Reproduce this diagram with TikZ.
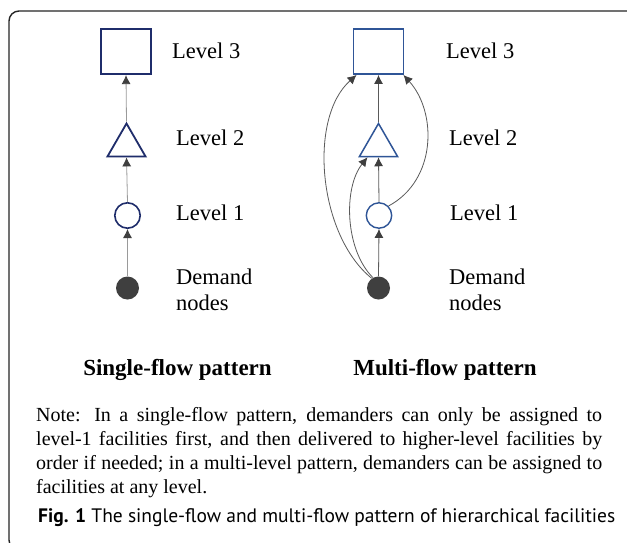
\documentclass[tikz,border=0pt]{standalone}
\usepackage{fontspec}
\setmainfont{Liberation Serif}
\newfontfamily\capfont{PT Sans}
\usetikzlibrary{arrows.meta,shapes.geometric}
\definecolor{navy}{HTML}{1F2D6B}
\definecolor{midblue}{HTML}{2F5597}
\definecolor{dotgray}{HTML}{3F3F3F}
\definecolor{lightline}{HTML}{9A9A9A}
\definecolor{darkline}{HTML}{5A5A5A}
\tikzset{
  lvl/.style={anchor=base west,inner sep=0,font=\fontsize{22.5}{26}\selectfont},
  boxthree/.style={draw,rectangle,minimum width=50.4pt,minimum height=45.4pt,inner sep=0},
  tritwo/.style={draw,regular polygon,regular polygon sides=3,minimum size=44pt,inner sep=0},
  ringone/.style={draw,circle,minimum size=25.4pt,inner sep=0},
  demdot/.style={fill=dotgray,circle,minimum size=23pt,inner sep=0},
  flow/.style={draw=#1,line width=0.8pt,-{Latex[length=9pt,width=9pt,color=dotgray]}},
  flow/.default=darkline
}
\begin{document}
\begin{tikzpicture}[x=1pt,y=1pt]
\useasboundingbox (0,0) rectangle (627,-542);
\clip (0,0) rectangle (627,-542);
\fill[white] (0,0) rectangle (627,-542);
\draw[line width=1.4pt,rounded corners=10pt,color=black!85] (9,-11) rectangle (660,-550);

\node[boxthree,draw=navy,line width=1.8pt] (sqA) at (126,-51.5) {};
\node[tritwo,draw=navy,line width=1.8pt] (triA) at (126.5,-145.5) {};
\node[ringone,draw=navy,line width=1.6pt] (ringA) at (127.5,-215.5) {};
\node[demdot] (demA) at (127.5,-288) {};
\draw[flow=lightline] (triA.corner 1) -- (sqA.south);
\draw[flow=lightline] (ringA.north) -- (triA.south);
\draw[flow=lightline] (demA.north) -- (ringA.south);

\node[lvl] (labA3) at (172,-58) {Level 3};
\node[lvl] (labA2) at (176,-145) {Level 2};
\node[lvl] (labA1) at (176,-220) {Level 1};
\node[lvl,align=left,anchor=west] (labA0) at (176,-290) {Demand\\nodes};

\node[boxthree,draw=midblue,line width=1.5pt] (sqB) at (378.5,-51.5) {};
\node[tritwo,draw=midblue,line width=1.5pt] (triB) at (378.5,-145.5) {};
\node[ringone,draw=midblue,line width=1.4pt] (ringB) at (379,-215.5) {};
\node[demdot] (demB) at (378.5,-288) {};
\draw[flow] (triB.corner 1) -- (sqB.south);
\draw[flow] (ringB.north) -- (triB.south);
\draw[flow] (demB.north) -- (ringB.south);
\draw[flow] (demB.125) .. controls (318,-235) and (308,-118) .. ([xshift=4pt]sqB.south west);
\draw[flow] (demB.118) .. controls (345,-250) and (343,-188) .. ([xshift=-11pt]triB.south);
\draw[flow] (ringB.45) .. controls (437,-180) and (437,-112) .. ([xshift=-1pt]sqB.south east);

\node[lvl] (labB3) at (446,-58) {Level 3};
\node[lvl] (labB2) at (449,-145) {Level 2};
\node[lvl] (labB1) at (450,-220) {Level 1};
\node[lvl,align=left,anchor=west] (labB0) at (449,-290) {Demand\\nodes};

\node[anchor=base,inner sep=0,font=\fontsize{23}{26}\selectfont\bfseries] (headA) at (177.5,-375) {Single-flow pattern};
\node[anchor=base,inner sep=0,font=\fontsize{23}{26}\selectfont\bfseries] (headB) at (445,-375) {Multi-flow pattern};

\node[anchor=base west,inner sep=0] (note) at (36,-421) {\parbox[t]{566pt}{\fontsize{20}{24}\selectfont
Note: In a single-flow pattern, demanders can only be assigned to\linebreak
level-1 facilities first, and then delivered to higher-level facilities by\linebreak
order if needed; in a multi-level pattern, demanders can be assigned to\linebreak
facilities at any level.}};

\node[anchor=base west,inner sep=0,font=\capfont\fontsize{19.5}{22}\selectfont] (cap) at (38,-522) {\textbf{Fig. 1} The single-flow and multi-flow pattern of hierarchical facilities};
\end{tikzpicture}
\end{document}
